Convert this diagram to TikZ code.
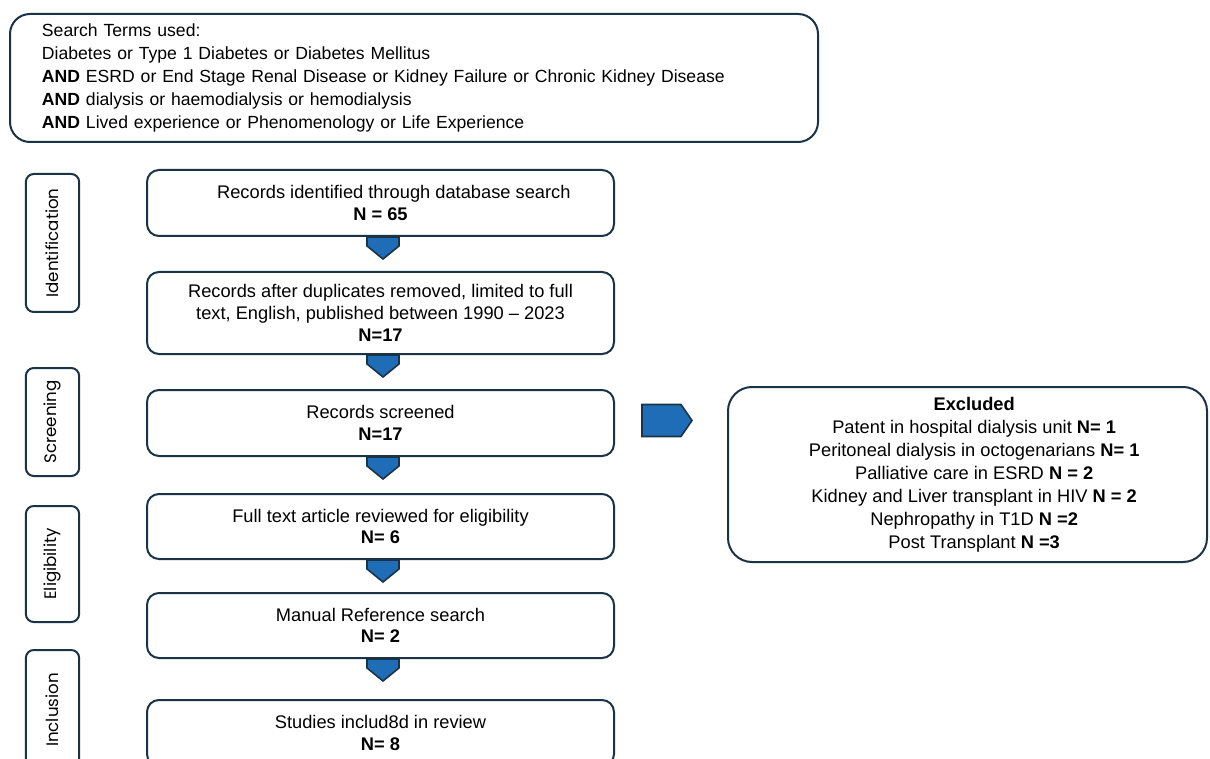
\documentclass[tikz,border=0pt]{standalone}
\usepackage{fontspec}
\setmainfont{Liberation Sans}
\newfontfamily\sidefont{Poppins}
\usetikzlibrary{calc}
\definecolor{navy}{HTML}{1B3347}
\definecolor{arrblue}{HTML}{1F6DB6}
\begin{document}
\begin{tikzpicture}[x=0.75pt,y=-0.75pt,
  mainbox/.style={draw=navy,line width=1.5pt,rounded corners=9pt,minimum width=350.25pt,inner sep=0pt,align=center,font=\fontsize{13.7}{16.3}\selectfont},
  sidebox/.style={draw=navy,line width=1.5pt,rounded corners=6pt,rotate=90,minimum height=40pt,inner sep=0pt,font=\sidefont\fontsize{12.5}{14}\selectfont},
  blockarrow/.style={fill=arrblue,draw=navy,line width=1.2pt,line join=miter}]
\useasboundingbox (0,0) rectangle (1210,759);
% top box
\node[draw=navy,line width=1.5pt,rounded corners=15pt,minimum width=606pt,minimum height=96pt,text width=582pt,inner xsep=12pt,align=left,font=\fontsize{13.2}{17.25}\selectfont] (terms) at (414,78)
{\hspace*{12pt}Search Terms used:\\
\hspace*{12pt}Diabetes or Type 1 Diabetes or Diabetes Mellitus\\
\hspace*{12pt}\textbf{AND} ESRD or End Stage Renal Disease or Kidney Failure or Chronic Kidney Disease\\
\hspace*{12pt}\textbf{AND} dialysis or haemodialysis or hemodialysis\\
\hspace*{12pt}\textbf{AND} Lived experience or Phenomenology or Life Experience};
% side labels
\node[sidebox,minimum width=103.5pt] (sid) at (52.5,243) {Identification};
\node[sidebox,minimum width=81pt] (sscr) at (52.5,422) {Screening};
\node[sidebox,minimum width=87pt] (selig) at (52.5,564) {Eligibility};
\node[sidebox,minimum width=90pt] (sinc) at (52.5,710) {Inclusion};
% main boxes
\node[mainbox,minimum height=49.5pt] (b1) at (380.5,203) {\hspace*{20pt}Records identified through database search\\ \textbf{N = 65}};
\node[mainbox,minimum height=61.5pt] (b2) at (380.5,313) {Records after duplicates removed, limited to full\\ text, English, published between 1990 -- 2023\\ \textbf{N=17}};
\node[mainbox,minimum height=49.5pt] (b3) at (380.5,423) {Records screened\\ \textbf{N=17}};
\node[mainbox,minimum height=48.75pt] (b4) at (380.5,526.5) {Full text article reviewed for eligibility\\ \textbf{N= 6}};
\node[mainbox,minimum height=48.75pt] (b5) at (380.5,625.5) {Manual Reference search\\ \textbf{N= 2}};
\node[mainbox,minimum height=49.5pt] (b6) at (380.5,733) {Studies includ8d in review\\ \textbf{N= 8}};
% excluded box
\node[draw=navy,line width=1.5pt,rounded corners=18pt,minimum width=359.25pt,minimum height=131.25pt,inner sep=0pt,align=center,font=\fontsize{13.7}{17.25}\selectfont] (excl) at (967.5,474.5)
{\hspace*{10pt}\textbf{Excluded}\\
\hspace*{10pt}Patent in hospital dialysis unit \textbf{N= 1}\\
\hspace*{10pt}Peritoneal dialysis in octogenarians \textbf{N= 1}\\
\hspace*{10pt}Palliative care in ESRD \textbf{N = 2}\\
\hspace*{10pt}Kidney and Liver transplant in HIV \textbf{N = 2}\\
\hspace*{10pt}Nephropathy in T1D \textbf{N =2}\\
\hspace*{10pt}Post Transplant \textbf{N =3}};
% down arrows
\foreach \a/\b in {b1/b2,b2/b3,b3/b4,b4/b5,b5/b6}{
  \coordinate (c) at ($(\a.south)+(2.5,0)$);
  \draw[blockarrow] ($(c)+(-16,0)$) -- ($(c)+(-16,9)$) -- ($(c)+(0,22)$) -- ($(c)+(16,9)$) -- ($(c)+(16,0)$) -- cycle;
}
% right arrow
\coordinate (r) at (b3.east);
\draw[blockarrow] ($(r)+(27,-18.5)$) -- ($(r)+(66,-18.5)$) -- ($(r)+(77,-2.5)$) -- ($(r)+(66,13.5)$) -- ($(r)+(27,13.5)$) -- cycle;
\end{tikzpicture}
\end{document}
